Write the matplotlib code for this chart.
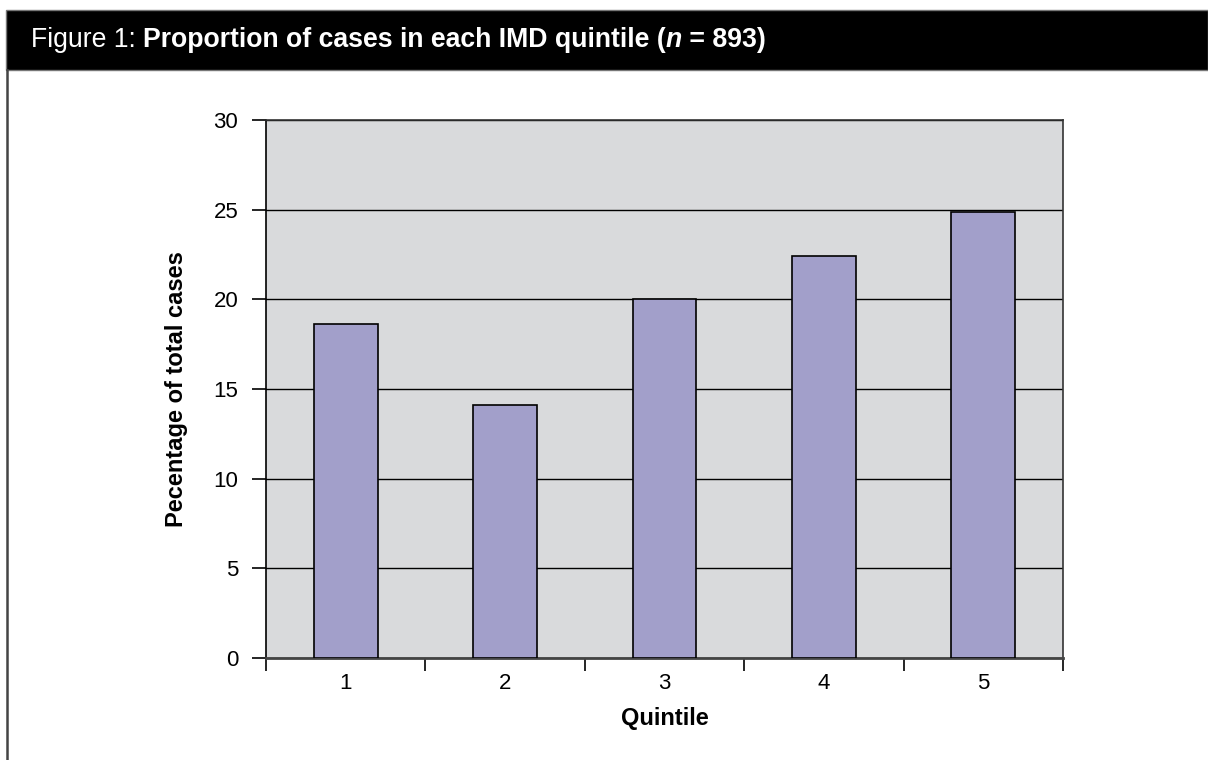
import numpy as np
import matplotlib.pyplot as plt
from matplotlib.ticker import FixedLocator
from matplotlib.patches import Rectangle
from matplotlib.lines import Line2D

# data
quintiles = ['1', '2', '3', '4', '5']
percent = [18.6, 14.1, 20.0, 22.4, 24.85]
y_ticks = [0, 5, 10, 15, 20, 25, 30]

plt.rcParams['font.family'] = ['Liberation Sans', 'DejaVu Sans']

W, H = 1208, 760
fig = plt.figure(figsize=(W / 100, H / 100), dpi=100)

# black header band and left frame line
fig.patches.append(Rectangle((6 / W, 1 - 70 / H), 1 - 6 / W, 60 / H, transform=fig.transFigure,
                             facecolor='black', edgecolor='#777777', lw=1.0))
fig.lines.append(Line2D([7 / W, 7 / W], [0, 1 - 70 / H], transform=fig.transFigure,
                        color='#444444', lw=1.8))

# title made of pieces with different weights
pieces = [('Figure 1: ', 'normal', 'normal'),
          ('Proportion of cases in each IMD quintile (', 'bold', 'normal'),
          ('n', 'bold', 'italic'),
          (' = 893)', 'bold', 'normal')]
x0 = 31 / W
y0 = 1 - 47 / H
renderer = fig.canvas.get_renderer()
for s, wt, st in pieces:
    t = fig.text(x0, y0, s, color='white', fontsize=19.2, fontweight=wt, fontstyle=st,
                 ha='left', va='baseline')
    bb = t.get_window_extent(renderer=renderer)
    x0 = bb.x1 / W

ax = fig.add_axes([266 / W, 1 - 658 / H, (1063 - 266) / W, (658 - 120) / H])
ax.set_facecolor('#d9dadc')
x = np.arange(1, len(quintiles) + 1)
ax.set_axisbelow(True)
ax.yaxis.grid(True, color='black', lw=1.0)
ax.bar(x, percent, width=0.40, color='#a29fca', edgecolor='black', lw=1.2, zorder=3)

ax.set_xlim(0.5, len(quintiles) + 0.5)
ax.set_ylim(0, 30)
ax.set_yticks(y_ticks)
ax.set_xticks(x)
ax.set_xticklabels(quintiles)
ax.xaxis.set_minor_locator(FixedLocator(np.arange(0.5, len(quintiles) + 1, 1.0)))
ax.tick_params(axis='x', which='major', length=0, pad=11, labelsize=16)
ax.tick_params(axis='x', which='minor', length=9, width=1.2, color='black')
ax.tick_params(axis='y', length=10, width=1.2, pad=10, labelsize=16)

for side in ['top', 'right']:
    ax.spines[side].set_color('#333333')
    ax.spines[side].set_linewidth(1.2)
ax.spines['left'].set_color('black')
ax.spines['left'].set_linewidth(1.2)
ax.spines['bottom'].set_color('#444444')
ax.spines['bottom'].set_linewidth(2.0)

ax.set_ylabel('Pecentage of total cases', fontsize=17, fontweight='bold', labelpad=18)
ax.set_xlabel('Quintile', fontsize=17, fontweight='bold', labelpad=9)

fig.savefig('out.png', dpi=100)
